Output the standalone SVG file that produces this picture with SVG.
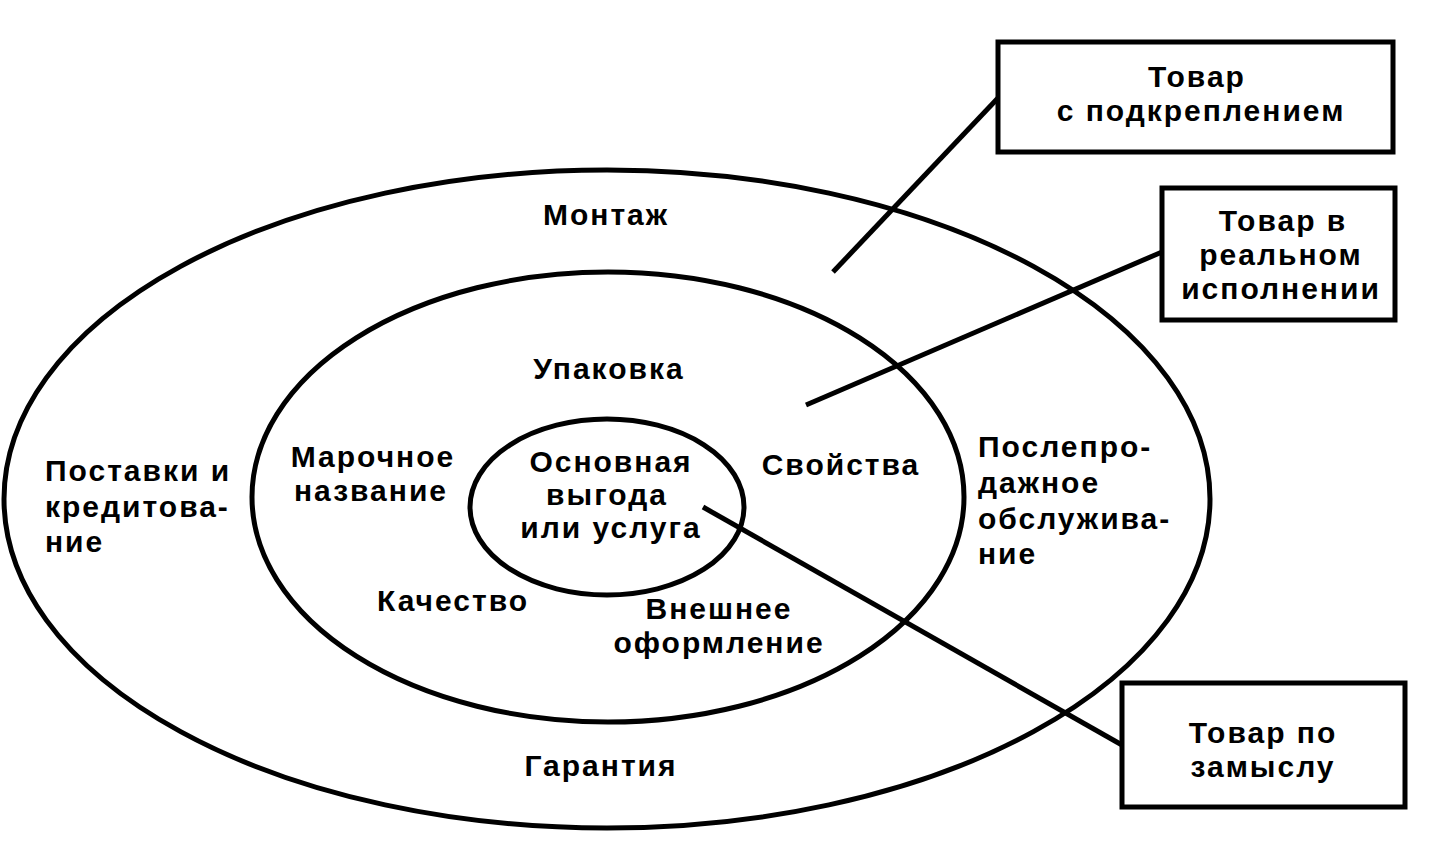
<svg xmlns="http://www.w3.org/2000/svg" width="1439" height="850" viewBox="0 0 1439 850">
<style>
.c{fill:none;stroke:#000;stroke-width:5}
.b{fill:#fff;stroke:#000;stroke-width:5}
.l{stroke:#000;stroke-width:5;fill:none}
text{font-family:"Liberation Sans",Arial,sans-serif;font-weight:bold;font-size:30px;letter-spacing:2px;fill:#000}
.m{text-anchor:middle}
</style>
<rect width="1439" height="850" fill="#fff"/>
<g id="outer"><ellipse class="c" cx="607" cy="499" rx="603" ry="329"/>
<text class="m" x="606" y="225">Монтаж</text>
<text x="45" y="481">Поставки и</text><text x="45" y="517">кредитова-</text><text x="45" y="552">ние</text>
<text x="978" y="457">Послепро-</text><text x="978" y="493">дажное</text><text x="978" y="529">обслужива-</text><text x="978" y="564">ние</text>
<text class="m" x="601" y="776">Гарантия</text>
</g>
<g id="middle"><ellipse class="c" cx="608" cy="497" rx="356" ry="225"/>
<text class="m" x="609" y="379">Упаковка</text>
<text class="m" x="373" y="467">Марочное</text><text class="m" x="371" y="501">название</text>
<text class="m" x="841" y="475">Свойства</text>
<text class="m" x="453" y="611">Качество</text>
<text class="m" x="719" y="619">Внешнее</text><text class="m" x="719" y="653">оформление</text>
</g>
<g id="inner"><ellipse class="c" cx="607" cy="507" rx="137" ry="88"/>
<text class="m" x="611" y="472">Основная</text><text class="m" x="607" y="505">выгода</text><text class="m" x="611" y="538">или услуга</text>
</g>
<g id="connectors">
<line class="l" x1="998" y1="98" x2="833" y2="272"/>
<line class="l" x1="1162" y1="252" x2="806" y2="405"/>
<line class="l" x1="703" y1="507" x2="1122" y2="745"/>
</g>
<g id="box1"><rect class="b" x="998" y="42" width="395" height="110"/>
<text class="m" x="1197" y="87">Товар</text><text class="m" x="1201" y="121">с подкреплением</text></g>
<g id="box2"><rect class="b" x="1162" y="188" width="233" height="132"/>
<text class="m" x="1283" y="231">Товар в</text><text class="m" x="1281" y="265">реальном</text><text class="m" x="1281" y="299">исполнении</text></g>
<g id="box3"><rect class="b" x="1122" y="683" width="283" height="124"/>
<text class="m" x="1263" y="743">Товар по</text><text class="m" x="1263" y="777">замыслу</text></g>
</svg>
